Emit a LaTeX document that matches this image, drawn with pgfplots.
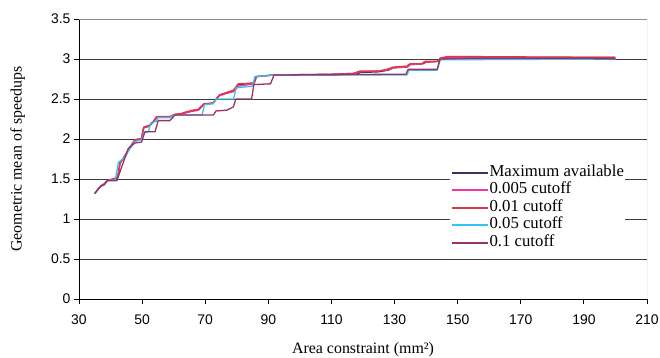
\documentclass[border=0pt]{standalone}
\usepackage{pgfplots}
\pgfplotsset{compat=1.18}
\usepackage{fontspec}
\setmainfont{Liberation Serif}
\newfontfamily\arialf{Liberation Sans}
\definecolor{cmax}{HTML}{333366}
\definecolor{cpink}{HTML}{F0359E}
\definecolor{cred}{HTML}{E8343C}
\definecolor{cblue}{HTML}{33C3F5}
\definecolor{cplum}{HTML}{993366}
\begin{document}
\begin{tikzpicture}
\begin{axis}[
 scale only axis, width=568bp, height=280bp,
 xmin=30, xmax=210, ymin=0, ymax=3.5,
 xtick={30,50,70,90,110,130,150,170,190,210},
 ytick={0,0.5,1,1.5,2,2.5,3,3.5},
 yticklabels={0,0.5,1,1.5,2,2.5,3,3.5},
 axis x line*=bottom, axis y line*=left,
 axis line style={black, line width=0.8bp, -},
 tick style={black, line width=0.8bp},
 major tick length=5bp,
 tick align=outside,
 ymajorgrids, grid style={black!75, line width=0.8bp},
 tick label style={font=\arialf\fontsize{14}{16}\selectfont},
 xticklabel style={yshift=-7bp},
 /pgf/number format/assume math mode=true,
 xlabel={Area constraint (mm²)},
 ylabel={Geometric mean of speedups},
 label style={font=\fontsize{16}{18}\selectfont},
 xlabel style={at={(axis description cs:0.5,-0.18)}, anchor=center},
 ylabel style={at={(axis description cs:-0.108,0.5)}, anchor=center},
 legend style={at={(axis description cs:0.653,0.487)}, anchor=north west,
   draw=none, fill=white, font=\fontsize{16.8}{18}\selectfont,
   row sep=0pt, inner sep=1bp,
   nodes={inner sep=0.5bp, text height=12bp, text depth=4.5bp}},
 legend cell align=left,
 legend image code/.code={\draw[#1, line width=2bp] (0bp,0bp) -- (36bp,0bp);},
 every axis plot/.append style={line width=1.3bp, line join=round},
]
\addplot[cmax] coordinates {
(35,1.32)(36,1.37)(37,1.41)(38,1.43)(39,1.48)(41.5,1.50)(42.3,1.52)(43,1.70)(44.5,1.78)(46,1.88)(47.7,1.98)(49.8,2.00)(50.5,2.14)(52.3,2.16)(53.5,2.21)(54.6,2.27)(58.8,2.27)(60.3,2.30)(62.5,2.31)(64,2.33)(66,2.35)(67.8,2.36)(69.5,2.43)(72.5,2.45)(74.5,2.55)(76.8,2.58)(78.9,2.60)(80.5,2.68)(85.5,2.70)(86.2,2.78)(91.6,2.80)(110,2.80)(118,2.81)(119,2.83)(125,2.84)(128,2.86)(129.6,2.89)(134,2.90)(135,2.93)(139,2.94)(140,2.96)(143.7,2.97)(144.4,3.00)(200,3.00)};
\addlegendentry{Maximum available}
\addplot[cpink] coordinates {
(35,1.32)(36,1.37)(37,1.41)(38,1.44)(39,1.48)(41.5,1.51)(42.3,1.52)(43,1.70)(44.5,1.78)(46,1.89)(47.7,1.99)(49.8,2.00)(50.5,2.14)(52.3,2.17)(53.5,2.21)(54.6,2.27)(58.8,2.28)(60.3,2.30)(62.5,2.31)(64,2.33)(66,2.35)(67.8,2.36)(69.5,2.43)(72.5,2.45)(74.5,2.54)(76.8,2.57)(78.9,2.59)(80.5,2.66)(85.5,2.69)(86.2,2.78)(91.6,2.80)(110,2.81)(117,2.82)(119,2.84)(124.8,2.85)(127.5,2.86)(129.6,2.89)(133.8,2.90)(134.9,2.93)(138.6,2.94)(139.6,2.96)(143.7,2.97)(144.4,3.00)(146.5,3.02)(200,3.02)};
\addlegendentry{0.005 cutoff}
\addplot[cred] coordinates {
(35,1.32)(36,1.37)(37,1.42)(38,1.44)(39,1.48)(41.5,1.51)(42.3,1.53)(43,1.70)(44.5,1.79)(46,1.89)(47.7,1.99)(49.8,2.01)(50.5,2.15)(52.3,2.17)(53.5,2.22)(54.6,2.28)(58.8,2.28)(60.3,2.31)(62.5,2.32)(64,2.34)(66,2.36)(67.8,2.37)(69.5,2.44)(72.5,2.45)(74.5,2.55)(76.8,2.58)(78.9,2.61)(80.5,2.69)(85.5,2.70)(86.2,2.78)(91.6,2.80)(110,2.81)(117,2.82)(119,2.85)(124.8,2.85)(127.5,2.87)(129.6,2.90)(133.8,2.91)(134.9,2.94)(138.6,2.94)(139.6,2.97)(143.7,2.97)(144.4,3.01)(146.5,3.03)(155,3.03)(200,3.02)};
\addlegendentry{0.01 cutoff}
\addplot[cblue] coordinates {
(35,1.32)(36,1.37)(37,1.41)(38,1.43)(39,1.48)(41.5,1.49)(42.5,1.71)(44.5,1.77)(46,1.87)(47.7,1.97)(49.8,1.99)(50.6,2.08)(52,2.09)(52.7,2.20)(54.5,2.22)(55,2.27)(58.8,2.27)(60.3,2.30)(69,2.30)(69.8,2.43)(72.5,2.44)(73.5,2.50)(79,2.50)(79.8,2.64)(85,2.66)(85.7,2.78)(91.6,2.80)(134,2.80)(134.5,2.86)(143.5,2.86)(144.5,2.99)(200,3.00)};
\addlegendentry{0.05 cutoff}
\addplot[cplum] coordinates {
(35,1.32)(36,1.37)(37,1.41)(38,1.43)(39,1.48)(42,1.48)(45.6,1.88)(47.7,1.95)(49.8,1.96)(50.9,2.09)(54.1,2.09)(55.1,2.23)(58.8,2.23)(60.4,2.30)(72.6,2.30)(73.4,2.35)(76.8,2.36)(78.9,2.40)(79.7,2.50)(84.7,2.50)(85.4,2.68)(90.7,2.69)(91.8,2.80)(133.6,2.81)(134.3,2.87)(143.5,2.87)(144.4,3.00)(155,3.01)(200,3.01)};
\addlegendentry{0.1 cutoff}
\draw[black!45, line width=0.8bp] (rel axis cs:0,1) -- (rel axis cs:1,1) -- (rel axis cs:1,0);
\coordinate (sw) at (rel axis cs:0,0);
\end{axis}
\pgfresetboundingbox
\path[use as bounding box] (sw) ++(-79bp,-59bp) rectangle ++(660bp,358bp);
\end{tikzpicture}
\end{document}
